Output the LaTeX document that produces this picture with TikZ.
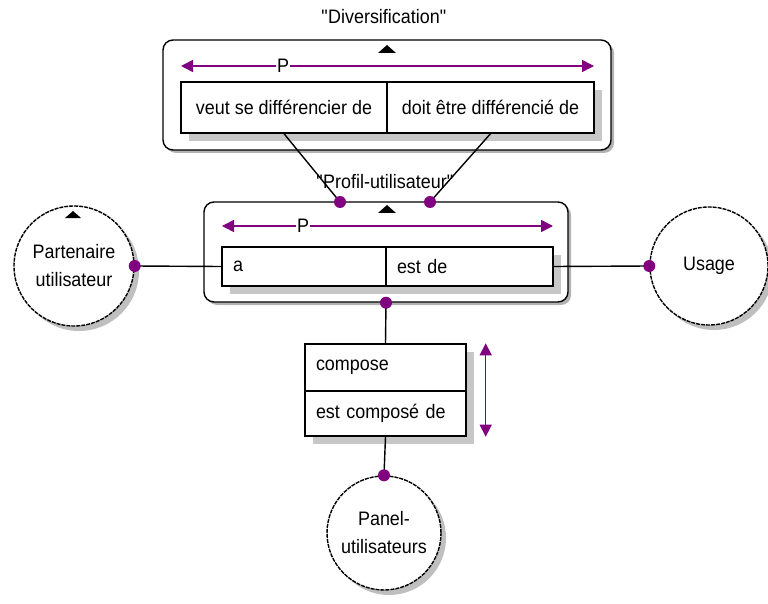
\documentclass[tikz,border=0pt]{standalone}
\usepackage{fontspec}
\setmainfont{Liberation Sans}[FakeStretch=0.92]
\usepackage{tikz}
\usetikzlibrary{arrows.meta,shadows,positioning}
\definecolor{relpurple}{RGB}{128,0,128}

\begin{document}
\begin{tikzpicture}[x=1pt,y=-1pt,font=\fontsize{19.5}{28}\selectfont,line width=1.4pt,
  frame/.style={draw,fill=white,rounded corners=10pt,inner sep=0pt,
    drop shadow={shadow xshift=3pt,shadow yshift=-3pt,fill=black!30,opacity=1}},
  cell/.style={draw,fill=white,inner sep=0pt,
    drop shadow={shadow xshift=8pt,shadow yshift=-8pt,fill=black!22,opacity=1}},
  lcell/.style={cell,align=left,inner xsep=11pt},
  entity/.style={circle,draw,fill=white,dash pattern=on 4pt off 1pt,inner sep=0pt,align=center,
    drop shadow={shadow xshift=5pt,shadow yshift=-5pt,fill=black!25,opacity=1}},
  dot/.style={circle,fill=relpurple,inner sep=0pt,minimum size=12pt},
  parr/.style={relpurple,line width=1.5pt,{Triangle[length=12pt,width=12pt]}-{Triangle[length=12pt,width=12pt]}},
  plabel/.style={fill=white,inner sep=1pt}]
\useasboundingbox (0,0) rectangle (768,604);

% Diversification
\node[frame,minimum width=448pt,minimum height=110pt] (divbox) at (387,95) {};
\node (divtitle) at (384,17) {\textquotedbl Diversification\textquotedbl};
\fill (387,49) ++(-9,4) -- ++(18,0) -- ++(-9,-8) -- cycle;
\draw[parr] (181,66) -- (594,66);
\node[plabel] (divp) at (283,66) {P};
\node[cell,minimum width=206pt,minimum height=51pt] (veut) at (284,107.5) {veut se différencier de};
\node[cell,minimum width=207pt,minimum height=51pt] (doit) at (490.5,107.5) {doit être différencié de};

% Profil-utilisateur
\node[frame,minimum width=364pt,minimum height=100pt] (profbox) at (386,252) {};
\node (proftitle) at (385,182) {\textquotedbl Profil-utilisateur\textquotedbl};
\fill (387,209) ++(-9,4) -- ++(18,0) -- ++(-9,-8) -- cycle;
\draw[parr] (222,226) -- (553,226);
\node[plabel] (profp) at (303,226) {P};
\node[lcell,minimum width=164pt,minimum height=39pt,text width=142pt] (acell) at (304,266.5) {a};
\node[lcell,minimum width=167pt,minimum height=39pt,text width=145pt] (estde) at (469.5,266.5) {est de};
\coordinate (dveut) at (340,202);
\coordinate (ddoit) at (430,202);
\draw (veut.south) -- (dveut);
\draw (doit.south) -- (ddoit);

% entites
\node[entity,minimum size=120pt] (partenaire) at (74,266) {Partenaire\\utilisateur};
\fill (73,214) ++(-8,4) -- ++(16,0) -- ++(-8,-7) -- cycle;
\node[entity,minimum size=118pt] (usage) at (709,266) {Usage};
\node[entity,minimum size=114pt] (panel) at (384,533) {Panel-\\utilisateurs};

% compose
\node[lcell,minimum width=161pt,minimum height=47pt,text width=139pt] (compose) at (385.5,367.5) {compose};
\node[lcell,minimum width=161pt,minimum height=45pt,text width=139pt] (estcomp) at (385.5,413.5) {est composé de};
\draw[parr] ([xshift=19pt]compose.north east) -- ([xshift=19pt]estcomp.south east);

% liens
\draw (partenaire.east) -- (acell.west);
\draw (estde.east) -- (usage.west);
\draw (profbox.south) -- (compose.north);
\draw (estcomp.south) -- (panel.north);
\node[dot] at (dveut) {};
\node[dot] at (ddoit) {};
\node[dot] at (partenaire.east) {};
\node[dot] at (usage.west) {};
\node[dot] at (profbox.south) {};
\node[dot] at (panel.north) {};
\end{tikzpicture}
\end{document}
